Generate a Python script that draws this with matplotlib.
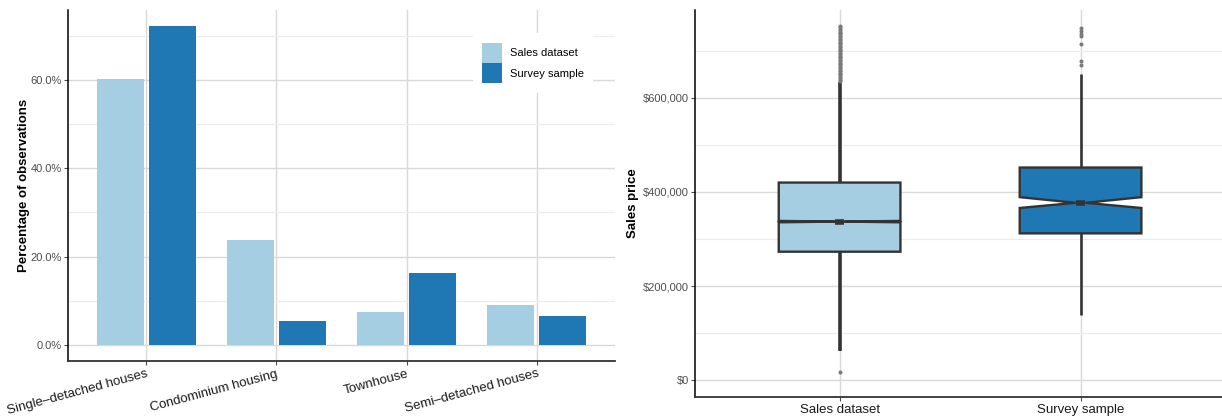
import matplotlib
matplotlib.use("Agg")
import matplotlib.pyplot as plt
import numpy as np
from matplotlib.patches import Polygon
from matplotlib.ticker import FuncFormatter, MultipleLocator

plt.rcParams["font.family"] = ["Liberation Sans", "DejaVu Sans"]

# --- dwelling type shares (percent of observations) ---
categories = ["Single\u2013detached houses", "Condominium housing",
              "Townhouse", "Semi\u2013detached houses"]
sales_share = [60.3, 23.8, 7.4, 9.0]
survey_share = [72.1, 5.4, 16.2, 6.5]

# --- sales price summaries ---
groups = ["Sales dataset", "Survey sample"]
q1 = [273_000, 312_000]
med = [337_000, 377_000]
q3 = [420_000, 452_000]
ci_lo = [335_500, 366_000]
ci_hi = [338_500, 389_000]
whisk_lo = [61_000, 138_000]
whisk_hi = [634_000, 651_000]
sales_outliers = [17_000, 636_000, 639_000, 642_000, 645_000, 648_000, 651_000,
                  654_000, 657_000, 660_000, 663_000, 666_000, 669_000, 672_000,
                  675_000, 678_000, 681_000, 684_000, 687_000, 690_000, 693_000,
                  696_000, 699_000, 702_000, 705_000, 708_000, 711_000, 714_000,
                  717_000, 720_000, 723_000, 726_000, 729_000, 732_000, 735_000,
                  738_000, 741_000, 744_000, 747_000, 750_000, 753_000]
survey_outliers = [670_000, 679_000, 715_000, 732_000, 737_000, 742_000, 748_000]

LIGHT = "#a6cee3"
DARK = "#1f78b4"
INK = "#333333"
TICK = "#4d4d4d"
GRID_MAJ = "#d9d9d9"
GRID_MIN = "#ececec"

W, H = 1222, 417
fig = plt.figure(figsize=(W / 100, H / 100), dpi=100)
ax1 = fig.add_axes([68 / W, (H - 361) / H, 547 / W, 351 / H])
ax2 = fig.add_axes([695 / W, (H - 397) / H, 527 / W, 387 / H])


def style(ax):
    for s in ("top", "right"):
        ax.spines[s].set_visible(False)
    ax.spines["left"].set_color("black")
    ax.spines["left"].set_linewidth(1.1)
    ax.spines["bottom"].set_color(INK)
    ax.spines["bottom"].set_linewidth(1.3)
    ax.tick_params(axis="both", length=3, width=0.8, color=TICK, labelcolor=TICK)
    ax.tick_params(axis="y", pad=1.5, labelsize=8)
    ax.tick_params(axis="x", labelcolor="#1a1a1a", pad=2)
    ax.grid(which="major", color=GRID_MAJ, lw=1.0)
    ax.grid(which="minor", axis="y", color=GRID_MIN, lw=0.8)
    ax.tick_params(which="minor", length=0)
    ax.set_axisbelow(True)


# left: grouped bars
x = np.arange(len(categories))
ax1.bar(x - 0.2, sales_share, width=0.36, color=LIGHT, label="Sales dataset", zorder=3)
ax1.bar(x + 0.2, survey_share, width=0.36, color=DARK, label="Survey sample", zorder=3)
ax1.set_xlim(-0.6, 3.6)
ax1.set_ylim(-3.6, 75.8)
ax1.yaxis.set_major_locator(MultipleLocator(20))
ax1.yaxis.set_minor_locator(MultipleLocator(10))
ax1.yaxis.set_major_formatter(FuncFormatter(lambda v, _: f"{v:.1f}%"))
ax1.set_xticks(x)
ax1.set_xticklabels(categories, rotation=15, ha="right", va="top",
                    rotation_mode="anchor", fontsize=9.5)
style(ax1)
ax1.set_ylabel("Percentage of observations", fontsize=9.5, fontweight="bold", labelpad=0.5)
leg = ax1.legend(loc="upper left", bbox_to_anchor=(0.74, 0.934), borderaxespad=0,
                 fontsize=8, handlelength=1.8, handleheight=2.45, labelspacing=0.0,
                 handletextpad=0.7, borderpad=0.85, frameon=True, fancybox=False)
leg.get_frame().set_facecolor("white")
leg.get_frame().set_edgecolor("none")
leg.get_frame().set_alpha(1)

# right: notched boxes drawn from the summary stats
box_w = 0.505
pinch = 0.04
whisk_lw = [2.6, 1.9]
for i, col in enumerate([LIGHT, DARK]):
    left, right = i - box_w / 2, i + box_w / 2
    ax2.plot([i, i], [q3[i], whisk_hi[i]], color=INK, lw=whisk_lw[i], zorder=3,
             solid_capstyle="butt")
    ax2.plot([i, i], [q1[i], whisk_lo[i]], color=INK, lw=whisk_lw[i], zorder=3,
             solid_capstyle="butt")
    verts = [(left, q1[i]), (left, ci_lo[i]), (i - pinch / 2, med[i]), (left, ci_hi[i]),
             (left, q3[i]), (right, q3[i]), (right, ci_hi[i]), (i + pinch / 2, med[i]),
             (right, ci_lo[i]), (right, q1[i])]
    ax2.add_patch(Polygon(verts, closed=True, facecolor=col, edgecolor=INK,
                          lw=1.7, zorder=4, joinstyle="miter"))
    ax2.plot([i - pinch / 2, i + pinch / 2], [med[i], med[i]], color=INK, lw=4,
             zorder=5, solid_capstyle="butt")

for i, pts in enumerate([sales_outliers, survey_outliers]):
    ax2.plot(np.full(len(pts), i), pts, "o", ms=2.9, color="#7a7a7a",
             mec="none", zorder=3)

ax2.set_xlim(-0.6, 1.587)
ax2.set_ylim(-36_000, 787_000)
ax2.yaxis.set_major_locator(MultipleLocator(200_000))
ax2.yaxis.set_minor_locator(MultipleLocator(100_000))
ax2.yaxis.set_major_formatter(FuncFormatter(lambda v, _: f"${v:,.0f}"))
ax2.set_xticks([0, 1])
ax2.set_xticklabels(groups, fontsize=9.5)
style(ax2)
ax2.set_ylabel("Sales price", fontsize=9.5, fontweight="bold", labelpad=3)

fig.savefig("out.png", dpi=100)
